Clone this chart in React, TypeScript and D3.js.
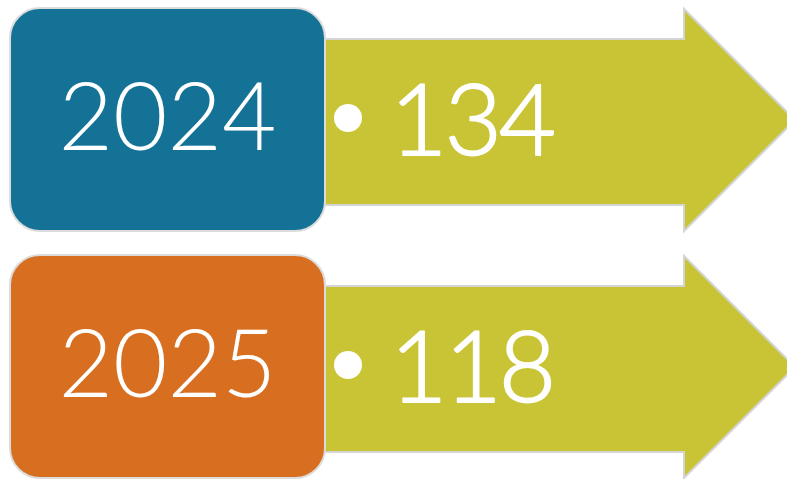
import React from "react";
import * as d3 from "d3";

const years = ["2024", "2025"];
const values = [134, 118];
const boxColors = ["#137296", "#D86E20"];
const arrowColor = "#C9C435";

const W = 787;
const H = 479;

export default function App() {
  const y = d3.scaleBand<string>().domain(years).range([8, 478]).paddingInner(0.097).paddingOuter(0);
  const bw = y.bandwidth();
  const boxX0 = 10, boxX1 = 325;
  const bodyX0 = 318, headX = 684;

  return (
    <svg width={W} height={H} style={{ position: "absolute", left: 0, top: 0, display: "block" }}>
      <rect width={W} height={H} fill="#fff" />
      {years.map((yr, i) => {
        const t = y(yr)!;
        const bodyTop = t + 31;
        const bodyBot = t + 197;
        const headTop = t + 1;
        const headBot = t + bw;
        const mid = (headTop + headBot) / 2;
        const tip = headX + (headBot - headTop) / 2;
        const p = d3.path();
        p.moveTo(bodyX0, bodyTop);
        p.lineTo(headX, bodyTop);
        p.lineTo(headX, headTop);
        p.lineTo(tip, mid);
        p.lineTo(headX, headBot);
        p.lineTo(headX, bodyBot);
        p.lineTo(bodyX0, bodyBot);
        p.closePath();
        return (
          <g key={yr}>
            <path d={p.toString()} fill={arrowColor} stroke="#d4d4d4" strokeWidth={2} />
            <rect x={boxX0} y={t} width={boxX1 - boxX0} height={bw} rx={30} ry={30}
              fill={boxColors[i]} stroke="#dcdcdc" strokeWidth={2} />
            <text x={(boxX0 + boxX1) / 2} y={t + 142} textAnchor="middle" fill="#fff"
              fontFamily="Lato, 'Open Sans', sans-serif" fontWeight={300} fontSize={94}>{yr}</text>
            <circle cx={348} cy={t + 110} r={14} fill="#fff" />
            <text x={390} y={t + 147} textAnchor="start" fill="#fff" stroke="#fff" strokeWidth={1.8}
              strokeLinejoin="round" letterSpacing={-3}
              fontFamily="Lato, 'Open Sans', sans-serif" fontWeight={300} fontSize={99}>{values[i]}</text>
          </g>
        );
      })}
    </svg>
  );
}
